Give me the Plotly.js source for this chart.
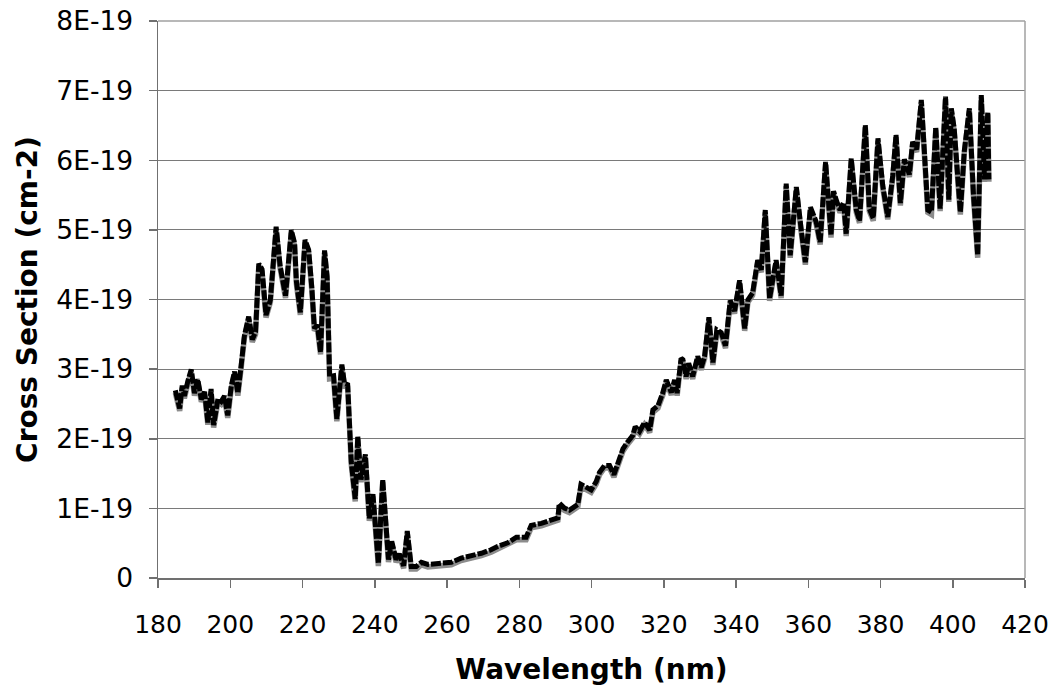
<!DOCTYPE html>
<html>
<head>
<meta charset="utf-8">
<script src="https://cdn.plot.ly/plotly-3.0.1.min.js"></script>
<style>html,body{margin:0;padding:0;background:#fff;}#chart{width:1052px;height:687px;}</style>
</head>
<body>
<div id="chart"></div>
<script>
// Wavelength (nm)
const wavelength = [
184.8,186.0,186.7,187.3,188.3,189.2,190.1,191.0,192.0,192.9,193.8,194.7,195.4,196.6,197.5,198.4,199.3,
200.3,201.2,202.1,203.0,203.9,205.1,206.1,207.0,207.9,208.8,209.9,211.1,212.7,213.8,215.3,216.9,217.8,
218.3,219.4,220.7,221.7,222.6,223.3,224.1,225.0,226.1,226.8,227.5,228.6,229.5,230.9,231.6,232.5,233.5,
234.6,235.3,236.2,237.4,238.5,239.5,241.0,242.2,243.2,243.8,244.7,245.9,246.8,248.0,249.0,250.1,251.5,
252.9,254.7,256.5,258.8,261.2,263.9,266.7,269.5,272.2,274.1,276.8,279.2,281.9,283.3,286.1,288.8,290.7,
291.1,292.5,293.9,295.3,296.2,297.1,298.5,299.9,301.3,302.2,303.6,305.0,306.2,307.3,308.7,310.0,311.4,
312.1,313.3,314.7,316.1,317.0,318.4,319.7,320.7,322.1,323.0,323.7,324.8,325.3,326.2,326.9,328.0,329.4,
330.4,331.3,332.5,333.6,334.7,335.9,337.1,338.4,339.6,341.0,342.4,343.3,344.6,346.0,347.0,348.1,349.3,
350.2,351.1,352.5,353.9,355.0,356.7,358.0,359.2,360.6,362.2,363.3,364.8,366.3,367.0,367.9,368.8,369.8,
370.5,371.9,373.3,374.2,374.9,375.8,376.9,378.0,379.3,380.6,382.0,383.4,384.3,385.5,386.6,388.0,388.9,
390.0,391.3,392.2,393.1,394.1,395.3,396.5,398.0,398.9,399.6,400.4,402.1,403.2,404.6,405.7,406.9,407.9,
408.8,409.7,410.0
];
// Cross section, in units of 1E-19 cm^2
const crossSection = [
2.66,2.40,2.73,2.58,2.80,2.96,2.62,2.82,2.53,2.64,2.20,2.68,2.16,2.54,2.50,2.58,2.30,
2.73,2.93,2.62,3.01,3.44,3.72,3.39,3.50,4.48,4.40,3.74,3.96,5.01,4.45,4.02,4.96,4.78,
4.23,3.78,4.82,4.68,4.12,3.55,3.60,3.21,4.67,4.30,2.86,2.87,2.25,3.03,2.76,2.74,1.63,
1.10,2.00,1.38,1.74,0.82,1.17,0.17,1.38,0.60,0.23,0.49,0.23,0.31,0.14,0.64,0.13,0.13,
0.19,0.16,0.17,0.19,0.19,0.25,0.28,0.32,0.37,0.42,0.47,0.55,0.55,0.72,0.75,0.80,0.83,
1.04,0.97,0.94,0.99,1.02,1.31,1.26,1.23,1.35,1.48,1.58,1.58,1.45,1.63,1.82,1.92,2.01,
2.14,2.07,2.20,2.09,2.38,2.44,2.62,2.81,2.63,2.81,2.62,3.12,3.10,2.86,3.05,2.86,3.15,
2.99,3.15,3.71,3.06,3.53,3.49,3.30,3.95,3.80,4.24,3.55,3.96,4.06,4.53,4.39,5.25,3.98,
4.26,4.53,4.02,5.63,4.60,5.58,4.99,4.50,5.29,5.08,4.79,5.94,4.89,5.52,5.37,5.25,5.36,
4.91,5.99,5.25,5.10,5.83,6.47,5.27,5.13,6.28,5.61,5.15,5.75,6.33,5.35,5.98,5.76,6.23,
6.12,6.83,6.00,5.25,5.22,6.44,5.27,6.88,5.40,6.71,6.42,5.22,6.10,6.71,5.50,4.60,6.90,
5.69,6.66,5.69
];
const yTickVals = [0,1,2,3,4,5,6,7,8];
const yTickText = ['0','1E-19','2E-19','3E-19','4E-19','5E-19','6E-19','7E-19','8E-19'];
const xTickVals = [180,200,220,240,260,280,300,320,340,360,380,400,420];

const SCALE = 1e-19;
const yVals = crossSection.map(v => v * SCALE);

const FONT = 'DejaVu Sans, Verdana, sans-serif';

const traces = [
  {
    x: wavelength, y: yVals, type: 'scatter', mode: 'lines',
    line: {color: '#8c8c8c', width: 5.5}, hoverinfo: 'skip', showlegend: false
  },
  {
    x: wavelength, y: yVals, type: 'scatter', mode: 'lines', yaxis: 'y2',
    line: {color: '#000000', width: 5, dash: '10px,2px'}, showlegend: false
  }
];

const yr = [0, 8 * SCALE];
const off = 0.035 * SCALE;

const layout = {
  width: 1052, height: 687,
  margin: {l: 158, r: 27, t: 21, b: 109, pad: 0},
  paper_bgcolor: '#ffffff', plot_bgcolor: '#ffffff',
  font: {family: FONT, color: '#000000', size: 25},
  showlegend: false,
  xaxis: {
    range: [180, 420], tickvals: xTickVals, ticktext: xTickVals.map(String),
    showgrid: false, zeroline: false,
    showline: true, linecolor: '#707070', linewidth: 1.5, mirror: false,
    ticks: 'outside', ticklen: 8, tickcolor: '#707070', tickwidth: 1.5,
    tickfont: {family: FONT, size: 25, color: '#000'},
    ticklabelstandoff: 15,
    title: {text: '<b>Wavelength (nm)</b>', font: {family: FONT, size: 28, color: '#000'}, standoff: 22},
    automargin: false
  },
  yaxis: {
    range: yr, tickvals: yTickVals.map(v => v * SCALE), ticktext: yTickText,
    showgrid: true, gridcolor: '#7a7a7a', gridwidth: 1,
    zeroline: false,
    showline: true, linecolor: '#707070', linewidth: 1.5,
    ticks: 'outside', ticklen: 8, tickcolor: '#707070', tickwidth: 1.5,
    tickfont: {family: FONT, size: 26.5, color: '#000'},
    ticklabelstandoff: 10,
    title: {text: '<b>Cross Section (cm-2)</b>', font: {family: FONT, size: 28, color: '#000'}, standoff: 10},
    automargin: false
  },
  yaxis2: {
    overlaying: 'y', range: [yr[0] - off, yr[1] - off], visible: false, showgrid: false
  },
  shapes: [
    {type: 'line', xref: 'paper', yref: 'paper', x0: 0, x1: 1, y0: 1, y1: 1, line: {color: '#a0a0a0', width: 1.5}},
    {type: 'line', xref: 'paper', yref: 'paper', x0: 1, x1: 1, y0: 0, y1: 1, line: {color: '#a0a0a0', width: 1.5}}
  ]
};

Plotly.newPlot('chart', traces, layout, {staticPlot: true, displayModeBar: false});
</script>
</body>
</html>
